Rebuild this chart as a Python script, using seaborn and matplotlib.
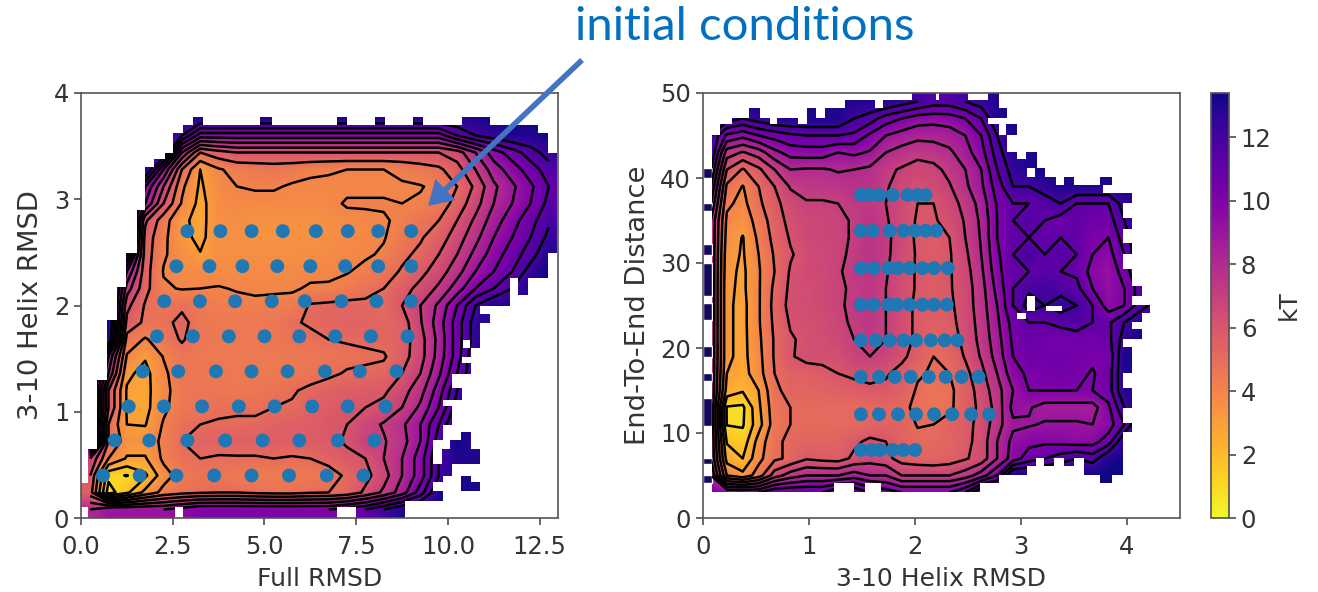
import numpy as np
import pandas as pd
import seaborn as sns
import matplotlib.pyplot as plt
from matplotlib.patches import FancyArrowPatch
from matplotlib.path import Path

N = np.nan

# free energy (kT), rows from y=0.08 upwards, x from 0.25
full_rmsd_rows = [
    [8, 9, 9, 9, 9, 9.5, 10, 10, 10, 10, 10, 10, 10, 10, 10.5, 11, 12, 13],
    [5.5, .5, 1.8, 3.3, 4.3, 4.7, 4.9, 5, 5, 4.8, 4.7, 4.7, 4.9, 5, 5.3, 6.2, 7.2, 8.5, 10.5, 13, N, 13],
    [6, 1.3, .95, 1.8, 3.6, 4.4, 4.7, 4.6, 4.4, 4.3, 4.3, 4.3, 4.5, 4.5, 5.2, 5.7, 6.6, 8, 9.5, 12, 13],
    [7, 4, 2.9, 2.9, 4.2, 4.7, 5, 4.9, 4.9, 4.9, 5, 4.9, 5, 5.4, 5.8, 6, 7, 8, 9.5, 12, 13, 13],
    [N, 5, 3.5, 3.5, 4.2, 5, 5.4, 5.4, 5.5, 5.5, 5.6, 5.6, 5.7, 5.8, 6.1, 7, 6.9, 7.6, 9, 11.5, N, 12.5],
    [N, 5, 3, 2.95, 4.1, 4.8, 5, 5.1, 5.1, 5.2, 5.4, 5.5, 5.6, 5.9, 6, 6.6, 7.1, 7.8, 9, 11],
    [N, 6, 2.9, 2.7, 3.8, 4.5, 4.6, 4.8, 4.9, 4.8, 5, 5.1, 5.4, 5.7, 5.9, 6, 6.3, 7, 8.2, 10, 12.5],
    [N, 6, 2.9, 2.7, 3.7, 4.5, 4.6, 4.5, 4.4, 4.5, 4.7, 4.9, 5.2, 5.5, 5.6, 5.7, 5.8, 6.6, 7.6, 9.5, 12],
    [N, 8, 3.2, 2.7, 3.8, 4.6, 4.5, 4.5, 4.4, 4.4, 4.4, 4.5, 4.6, 4.8, 5.1, 5.2, 5.3, 6, 7, 8.8, 11, 13],
    [N, 9, 3.9, 3.1, 4.05, 4.6, 4.4, 4.4, 4.4, 4.4, 4.4, 4.4, 4.5, 4.6, 4.7, 4.8, 4.9, 5.6, 6.6, 8.4, 10.5, 13],
    [N, 13, 4.6, 3.9, 4.5, 5.1, 4.5, 4.4, 4.4, 4.4, 4.5, 4.7, 4.8, 5, 5.1, 5.2, 5.3, 5.5, 6.6, 8.3, 10.5, 12.5],
    [N, N, 5.7, 4.8, 4.7, 5.3, 4.5, 4.4, 4.4, 4.4, 4.5, 4.9, 5.1, 5.3, 5.4, 5.4, 5.2, 5.5, 6.9, 8.5, 10.5, 12.5, 13],
    [N, N, 6.3, 4.9, 4.6, 4.8, 4.4, 4.2, 4.2, 4.2, 4.2, 4.3, 5.1, 5.2, 5.3, 5.2, 5.1, 6, 7, 8.2, 10, 12, 13, 13],
    [N, N, 7.5, 5.3, 4.1, 3.95, 4, 4.05, 3.95, 3.85, 3.9, 3.9, 4.1, 4.1, 4.3, 4.7, 5, 5.6, 6.3, 7.2, 8.5, 10, 11, 12, 13],
    [N, N, 9, 5.4, 3.95, 3.7, 3.7, 3.7, 3.7, 3.7, 3.7, 3.75, 3.8, 3.85, 3.95, 4.2, 4.6, 5.1, 5.7, 6.5, 7.6, 9, 10, 11, 12.5],
    [N, N, 12, 5.5, 4.1, 3.6, 3.05, 3.6, 3.6, 3.6, 3.6, 3.6, 3.6, 3.7, 3.8, 3.9, 4.1, 4.8, 5.2, 6, 7, 8.3, 9.5, 10.5, 11.5, 13],
    [N, N, N, 5.6, 4.2, 3.3, 2.75, 3.6, 3.5, 3.4, 3.4, 3.4, 3.5, 3.6, 3.7, 3.8, 3.95, 4.4, 4.9, 5.5, 6.5, 7.7, 9, 10, 11, 12.3],
    [N, N, N, 6.2, 4.4, 3.2, 2.7, 3.6, 3.6, 3.5, 3.5, 3.5, 3.5, 3.6, 3.7, 3.8, 3.9, 4.2, 4.6, 5, 6, 7.2, 8.5, 9.6, 10.6, 11.8],
    [N, N, N, 9, 6, 3.9, 2.7, 3.6, 3.8, 3.7, 3.7, 3.7, 3.7, 3.75, 4.1, 4.1, 4.1, 4, 4.1, 4.4, 5.4, 6.6, 8, 9, 10, 11.3],
    [N, N, N, 10, 7, 4.2, 2.85, 3.7, 4, 4.1, 4.1, 3.9, 3.8, 3.8, 3.8, 3.8, 3.8, 3.9, 3.95, 4.2, 5, 6.2, 7.8, 8.8, 9.8, 11],
    [N, N, N, N, 9, 5, 3, 3.9, 4.3, 4.4, 4.5, 4.4, 4.2, 4.1, 4, 4, 4, 4.2, 4.5, 4.8, 5.6, 7, 8.5, 9.5, 10.5, 11.5],
    [N, N, N, N, N, 8, 5, 5.6, 6, 6, 6, 6, 6, 6, 6, 6, 6, 6, 6, 6, 6.5, 8, 9.5, 10.5, 11.5, 12.5],
    [N, N, N, N, N, 12, 9.5, 9.5, 9.5, 9.5, 9.5, 9.5, 9.5, 9.5, 9.5, 9.5, 9.5, 9.5, 9.5, 9.5, 11, 12, 12.5, 13, 13],
    [N, N, N, N, N, N, 13, 13, 13, 13, 13, 13, 13, 13, 13, 13, 13, 13, 13, 13, 13, 13],
]

# free energy, rows from y=3 upwards, x from 0.075
end_to_end_rows = [
    [10, 10, 10, 10, 11, 11, 11, 11, 12, 12, 11, 10.5, 10, 10, 10, 10, 11],
    [9, 4, 3.3, 4.5, 6.5, 7.5, 8, 8, 8, 8.5, 8, 8, 7, 7, 7, 7, 7.5, 8.5, 10],
    [8, 2.6, 2, 3.7, 4.8, 5.2, 5.9, 5.7, 5.6, 6.2, 6.6, 6.3, 5.6, 5.4, 5.3, 5.5, 5.9, 6.4, 8, 9.5, 10.5, 11, 11.5, 12, 11.5, 13],
    [8, 1.9, 1.4, 3.4, 4.8, 5.2, 5.3, 5.3, 5.4, 5.8, 6.2, 6, 5.4, 5.2, 5.1, 5.3, 5.7, 6.4, 8, 9.3, 9.7, 9.8, 9.7, 9.5, 9.6, 10.5, 13],
    [8, .95, .9, 2.6, 4.5, 5, 5.1, 5.1, 5.1, 5.1, 5.3, 5.4, 5.4, 4.95, 5, 5.4, 5.7, 6.3, 7.6, 8.8, 8.9, 9.1, 9.1, 9.1, 9, 9.5, 11],
    [8, .9, .8, 2.8, 4.6, 5, 5.1, 5.1, 5.1, 5.1, 5.1, 5.2, 5.2, 4.8, 4.6, 4.8, 5.6, 6.2, 7.4, 9.3, 9.1, 8.6, 8.6, 8.6, 8.6, 9.8, 12],
    [8, 2.6, 2.1, 3.0, 4.8, 5.3, 5.3, 5.4, 5.5, 5.6, 5.8, 5.8, 5.5, 4.9, 4.6, 4.8, 5.5, 6.4, 7.6, 9, 10, 10, 10, 10, 10, 10.5, 13],
    [8, 3, 2.6, 3.6, 5, 5.5, 5.5, 5.7, 6, 6.2, 6.3, 6.1, 5.7, 5.1, 4.9, 5, 5.7, 6.7, 8, 9.6, 10.2, 10.3, 10.5, 10.3, 9.9, 10.5, 13],
    [8, 3.2, 2.7, 3.7, 5.1, 5.9, 6.3, 6.3, 6.3, 6.8, 7, 6.8, 6.2, 5.6, 5, 5.2, 6.1, 7.1, 8.4, 10, 10.5, 10.6, 10.5, 10.4, 10.2, 10.3, 13],
    [8, 3.2, 2.7, 3.8, 5.1, 5.9, 6.2, 6.4, 6.6, 7, 7.3, 7, 6.4, 5.8, 5.1, 5.5, 6.3, 7.3, 8.6, 10.2, 10.8, 10.4, 10.3, 10.5, 10.4, 10.7, 12.5],
    [8, 3.2, 2.7, 3.9, 5.2, 6.1, 6.3, 6.4, 6.7, 7.2, 7.4, 7, 6.4, 5.8, 5.6, 5.7, 6.4, 7.4, 8.8, 10.4, 11, 11, 11.3, 11.5, 11, 10.8, 12, 13],
    [8, 3.2, 2.7, 3.9, 5.3, 6.3, 6.4, 6.5, 6.8, 7.3, 7.4, 7, 6.4, 5.8, 5.6, 5.8, 6.5, 7.5, 9, 11, 12.5, 12, 12.5, 12, 11, 9.5, 10, 11.5, 12.5],
    [8, 3.2, 2.8, 3.9, 5.2, 6.2, 6.4, 6.5, 6.8, 7.2, 7.4, 7, 6.4, 5.9, 5.7, 5.9, 6.5, 7.6, 9.3, 11, 11.8, 12, 11.6, 11.3, 10, 9.3, 10, 11.5, 12],
    [8, 3.3, 2.8, 3.9, 5, 6.1, 6.5, 6.6, 6.9, 7.3, 7.5, 7.1, 6.4, 5.9, 5.7, 5.9, 6.6, 7.8, 9.6, 11, 11, 11.3, 11, 10.8, 9.6, 9.2, 10.5, 12],
    [8, 3.4, 2.9, 4, 5.1, 5.9, 6.4, 6.6, 6.8, 7.2, 7.6, 7.2, 6.5, 5.9, 5.7, 5.9, 6.8, 8, 9.8, 11, 12, 11, 11.5, 11, 10, 9.6, 11, 13],
    [8, 3.6, 2.95, 4.2, 5.3, 6.1, 6.6, 6.7, 6.8, 7.1, 7.6, 7.2, 6.6, 5.8, 5.7, 6, 7, 8.1, 10, 11, 11, 11, 11, 11, 10.1, 10, 11.5, 13],
    [8, 3.8, 3.4, 4.4, 5.5, 6.3, 6.6, 6.7, 6.8, 7.1, 7.6, 7.1, 6.5, 5.9, 5.9, 6.3, 7.1, 8.2, 10, 11, 11.5, 11, 10.5, 11, 10.5, 10.5, 12],
    [9, 4.2, 3.7, 4.8, 5.7, 6.5, 6.9, 6.9, 7, 7.3, 7.3, 7, 6.5, 6, 6, 6.6, 7.3, 8.4, 10.1, 11, 11, 11.5, 12, 11, 11, 11, 12.5],
    [10, 4.8, 3.95, 5, 6, 7.1, 7.4, 7.4, 7.5, 7.7, 7.6, 7.1, 6.6, 6.3, 6.5, 6.9, 7.8, 8.8, 10.5, 12, 12, 12.5, 13, 13, 13, 13],
    [11, 6, 4.9, 5.8, 7, 8, 7.9, 7.9, 8.1, 8, 7.8, 7.2, 6.9, 6.6, 6.7, 7.3, 8, 9, 11, 12.5, 13],
    [12, 7.5, 6.9, 7.5, 8.7, 9.4, 9.5, 9.5, 9, 9.2, 8.9, 8, 7.6, 7.3, 7.5, 7.8, 8.6, 9.6, 11.5, 13, 13],
    [12, 9.8, 9.3, 10, 10.4, 10.8, 11, 11, 11, 10.8, 9.8, 9, 8.6, 8.3, 8.3, 8.5, 9, 10, 12, 13],
    [N, 12.5, 12, 12.5, 13, 13, 13, 13, 13, 12, 11.5, 10.5, 10, 9.5, 9.4, 9.5, 10, 11, 13],
    [N, N, N, N, N, N, N, N, 13, 13, 13, 13, 12.5, 12, 11.5, 11.5, 12, 12.5, 13],
]

# occupied bins: y from, y to, x spans
full_rmsd_outline = [
    (0, .10, [(.19, 2.56), (2.78, 6.98), (7.49, 8.83)]),
    (.10, .16, [(0, 8.83)]),
    (.16, .25, [(0, 9.86)]),
    (.25, .33, [(0, 9.59), (10.35, 10.87)]),
    (.33, .34, [(.19, 9.59), (10.35, 10.87)]),
    (.34, .40, [(.19, 9.86), (10.35, 10.63)]),
    (.40, .51, [(.19, 10.11)]),
    (.51, .65, [(.19, 9.59), (9.84, 10.87)]),
    (.65, .73, [(.44, 9.59), (10.05, 10.63)]),
    (.73, .81, [(.44, 9.86), (10.35, 10.63)]),
    (.81, .88, [(.44, 9.86)]),
    (.88, 1.05, [(.44, 10.11)]),
    (1.05, 1.11, [(.44, 9.86)]),
    (1.11, 1.22, [(.44, 10.38)]),
    (1.22, 1.30, [(.44, 10.11)]),
    (1.30, 1.36, [(.71, 10.11)]),
    (1.36, 1.46, [(.71, 10.63)]),
    (1.46, 1.52, [(.71, 10.38)]),
    (1.52, 1.60, [(.71, 10.63)]),
    (1.60, 1.68, [(.71, 10.41), (10.6, 10.87)]),
    (1.68, 1.84, [(.71, 10.87)]),
    (1.84, 1.86, [(.71, 11.14)]),
    (1.86, 1.92, [(.98, 11.14)]),
    (1.92, 2.0, [(.98, 10.87)]),
    (2.0, 2.10, [(.98, 11.69)]),
    (2.10, 2.17, [(.98, 11.69), (11.91, 12.18)]),
    (2.17, 2.26, [(1.23, 11.69), (11.91, 12.18)]),
    (2.26, 2.49, [(1.23, 12.72)]),
    (2.49, 2.90, [(1.53, 12.97)]),
    (2.90, 3.30, [(1.74, 12.97)]),
    (3.30, 3.38, [(1.99, 12.97)]),
    (3.38, 3.44, [(2.29, 12.97)]),
    (3.44, 3.62, [(2.51, 12.72)]),
    (3.62, 3.70, [(2.78, 12.45)]),
    (3.70, 3.77, [(3.05, 3.32), (4.88, 5.2), (6.98, 7.25), (8.01, 8.28), (9.05, 9.32), (10.38, 11.14)]),
]
end_to_end_outline = [
    (3.1, 4.1, [(.085, 1.24), (1.42, 1.53), (1.68, 2.61)]),
    (4.1, 5.1, [(.085, 2.79), (3.75, 3.86)]),
    (5.1, 6.1, [(.085, 3.06), (3.59, 3.96)]),
    (6.1, 7.1, [(.085, 3.14), (3.22, 3.31), (3.41, 3.5), (3.59, 3.96)]),
    (7.1, 10.1, [(.085, 3.96)]),
    (10.1, 11.2, [(.085, 4.05)]),
    (11.2, 12.9, [(.085, 3.96)]),
    (12.9, 15.3, [(.085, 4.05)]),
    (15.3, 17.1, [(.085, 3.96)]),
    (17.1, 20.1, [(.085, 4.05)]),
    (20.1, 21.1, [(.085, 3.96)]),
    (21.1, 22.2, [(.085, 4.14)]),
    (22.2, 23.1, [(.085, 4.05)]),
    (23.1, 23.4, [(.085, 4.14)]),
    (23.4, 24.1, [(.085, 2.96), (3.05, 4.14)]),
    (24.1, 24.3, [(.085, 4.22)]),
    (24.3, 24.9, [(.085, 3.06), (3.13, 3.24), (3.39, 4.22)]),
    (24.9, 25.1, [(.085, 3.06), (3.13, 4.22)]),
    (25.1, 26.1, [(.085, 3.06), (3.13, 4.05)]),
    (26.1, 27.3, [(.085, 4.14)]),
    (27.3, 29.3, [(.085, 4.05)]),
    (29.3, 31.1, [(.085, 3.96)]),
    (31.1, 32.3, [(.085, 4.05)]),
    (32.3, 34, [(.085, 3.96)]),
    (34, 35.3, [(.085, 4.05)]),
    (35.3, 37.1, [(.085, 3.96)]),
    (37.1, 38.2, [(.085, 4.05)]),
    (38.2, 39.2, [(.085, 3.77)]),
    (39.2, 40.1, [(.085, 3.33), (3.41, 3.5), (3.75, 3.86)]),
    (40.1, 41.2, [(.085, 3.06), (3.13, 3.23)]),
    (41.2, 42.2, [(.085, 3.15)]),
    (42.2, 43.1, [(.085, 2.96), (3.05, 3.15)]),
    (43.1, 45.1, [(.085, 2.87)]),
    (45.1, 46.3, [(.16, 2.79), (2.86, 2.96)]),
    (46.3, 47.1, [(.27, .63), (.70, .90), (.98, 2.69)]),
    (47.1, 48.2, [(.43, .54), (.98, 1.07), (1.15, 2.87)]),
    (48.2, 49.2, [(1.34, 1.62), (1.70, 2.79)]),
    (49.2, 50, [(1.97, 2.2), (2.23, 2.5), (2.69, 2.79)]),
]
# dark bins along the axis in the right panel
edge_bins_from = [4.1, 6.3, 10.8, 16.1, 19, 23.3, 26.1, 31, 36.1, 40]
edge_bins_to = [5.1, 7.1, 14.1, 17.1, 20.2, 25.3, 30, 32.2, 37.1, 41.2]

full_x = [0.25 + 0.5 * i for i in range(26)]
full_y = [0.08 + 0.16 * j for j in range(24)]
end_x = [0.075 + 0.15 * i for i in range(30)]
end_y = [3 + 2 * j for j in range(24)]
kt_levels = [1, 2, 3, 4, 5, 6, 7, 8, 9, 10, 11, 12]
kt_ticks = [0, 2, 4, 6, 8, 10, 12]
kt_max = 13.39

# initial conditions
left_init_y = [2.70, 2.37, 2.04, 1.71, 1.38, 1.05, 0.73, 0.40]
left_init_x = [
    [2.9, 3.8, 4.65, 5.5, 6.4, 7.27, 8.1, 9.0],
    [2.6, 3.5, 4.4, 5.35, 6.25, 7.2, 8.1, 9.0],
    [2.27, 3.24, 4.2, 5.2, 6.1, 7.1, 8.05, 9.0],
    [2.07, 3.05, 4.03, 5.0, 5.95, 6.93, 7.9, 8.9],
    [1.68, 2.65, 3.68, 4.65, 5.63, 6.65, 7.6, 8.6],
    [1.3, 2.26, 3.3, 4.3, 5.28, 6.3, 7.27, 8.3],
    [0.92, 1.86, 2.9, 3.93, 4.95, 5.95, 7.0, 8.0],
    [0.6, 1.6, 2.6, 3.63, 4.65, 5.67, 6.7, 7.7],
]
right_init_y = [38, 33.8, 29.4, 25.1, 20.9, 16.6, 12.2, 8.0]
right_init_x = [
    [1.49, 1.57, 1.66, 1.79, 1.93, 2.02, 2.1],
    [1.49, 1.6, 1.76, 1.89, 2.0, 2.1, 2.2],
    [1.49, 1.61, 1.75, 1.84, 1.95, 2.07, 2.18, 2.31],
    [1.49, 1.61, 1.75, 1.83, 1.95, 2.07, 2.18, 2.3],
    [1.49, 1.63, 1.76, 1.89, 2.01, 2.15, 2.28, 2.4],
    [1.49, 1.66, 1.81, 1.96, 2.13, 2.29, 2.44, 2.6],
    [1.49, 1.66, 1.84, 2.01, 2.18, 2.35, 2.53, 2.7],
    [1.49, 1.59, 1.67, 1.79, 1.89, 2.0],
]


def to_grid(rows, n_cols):
    # anything not read off the picture sits above the colour range and gets clipped
    grid = np.full((len(rows), n_cols), kt_max)
    for i, row in enumerate(rows):
        grid[i, :len(row)] = row
    return np.where(np.isnan(grid), kt_max, grid)


def outline_path(outline):
    boxes = []
    for y0, y1, spans in outline:
        for x0, x1 in spans:
            boxes.append(Path([(x0, y0), (x1, y0), (x1, y1), (x0, y1), (x0, y0)], closed=True))
    return Path.make_compound_path(*boxes)


def init_frame(xs, ys):
    return pd.DataFrame({
        "x": [x for row in xs for x in row],
        "y": [y for row, y in zip(xs, ys) for _ in row],
    })


def draw_panel(ax, grid, xs, ys, init, extent, outline):
    im = ax.imshow(grid, origin="lower", extent=extent, aspect="auto",
                   cmap="plasma_r", vmin=0, vmax=kt_max, interpolation="bilinear")
    lines = ax.contour(xs, ys, grid, levels=kt_levels, colors="black", linewidths=1.8)
    clip = outline_path(outline)
    im.set_clip_path(clip, ax.transData)
    lines.set_clip_path(clip, ax.transData)
    sns.scatterplot(data=init, x="x", y="y", ax=ax, s=100, color="#1f77b4",
                    edgecolor="none", zorder=3)
    for side in ax.spines.values():
        side.set_color("#555555")
        side.set_linewidth(1.2)
    ax.tick_params(colors="#333333", labelsize=17.5, length=5, color="#555555")
    ax.tick_params(axis="x", pad=7)
    return im


sns.set_theme(style="ticks")
W, H = 1318, 592
fig = plt.figure(figsize=(W / 100, H / 100), dpi=100)


def px_axes(left, top, right, bottom):
    return fig.add_axes([left / W, 1 - bottom / H, (right - left) / W, (bottom - top) / H])


ax1 = px_axes(81, 93, 558, 518)
draw_panel(ax1, to_grid(full_rmsd_rows, 26), full_x, full_y,
           init_frame(left_init_x, left_init_y), [0, 13, 0, 3.84], full_rmsd_outline)
ax1.set_xlim(0, 13)
ax1.set_ylim(0, 4)
ax1.set_xticks([0, 2.5, 5, 7.5, 10, 12.5])
ax1.set_xticklabels(["0.0", "2.5", "5.0", "7.5", "10.0", "12.5"])
ax1.set_yticks([0, 1, 2, 3, 4])
ax1.set_xlabel("Full RMSD", fontsize=18, color="#333333", labelpad=6)
ax1.set_ylabel("3-10 Helix RMSD", fontsize=19.7, color="#333333", labelpad=7)

ax2 = px_axes(703, 93, 1180, 518)
im = draw_panel(ax2, to_grid(end_to_end_rows, 30), end_x, end_y,
                init_frame(right_init_x, right_init_y), [0, 4.5, 2, 50], end_to_end_outline)
ax2.barh(edge_bins_from, 0.085, height=np.subtract(edge_bins_to, edge_bins_from),
         align="edge", color="#14085c", zorder=1.5)
ax2.set_xlim(0, 4.5)
ax2.set_ylim(0, 50)
ax2.set_xticks([0, 1, 2, 3, 4])
ax2.set_yticks([0, 10, 20, 30, 40, 50])
ax2.set_xlabel("3-10 Helix RMSD", fontsize=18, color="#333333", labelpad=6)
ax2.set_ylabel("End-To-End Distance", fontsize=19.7, color="#333333", labelpad=7)

cax = px_axes(1211, 93, 1229, 518)
cbar = fig.colorbar(im, cax=cax, ticks=kt_ticks)
cbar.set_label("kT", fontsize=18, color="#333333")
cbar.ax.tick_params(labelsize=17.5, colors="#333333", length=5, color="#555555")
cbar.outline.set_edgecolor("#555555")

fig.text(745 / W, 1 - 27 / H, "initial conditions", fontsize=34, color="#0070C0",
         family="Lato", ha="center", va="center")
arrow = FancyArrowPatch((582 / W, 1 - 60 / H), (428 / W, 1 - 206 / H),
                        transform=fig.transFigure, color="#4472C4", lw=0,
                        arrowstyle="simple,head_length=1.73,head_width=2.1,tail_width=0.4",
                        mutation_scale=10, shrinkA=0, shrinkB=0, zorder=6)
fig.add_artist(arrow)

fig.savefig("out.png", dpi=100)
